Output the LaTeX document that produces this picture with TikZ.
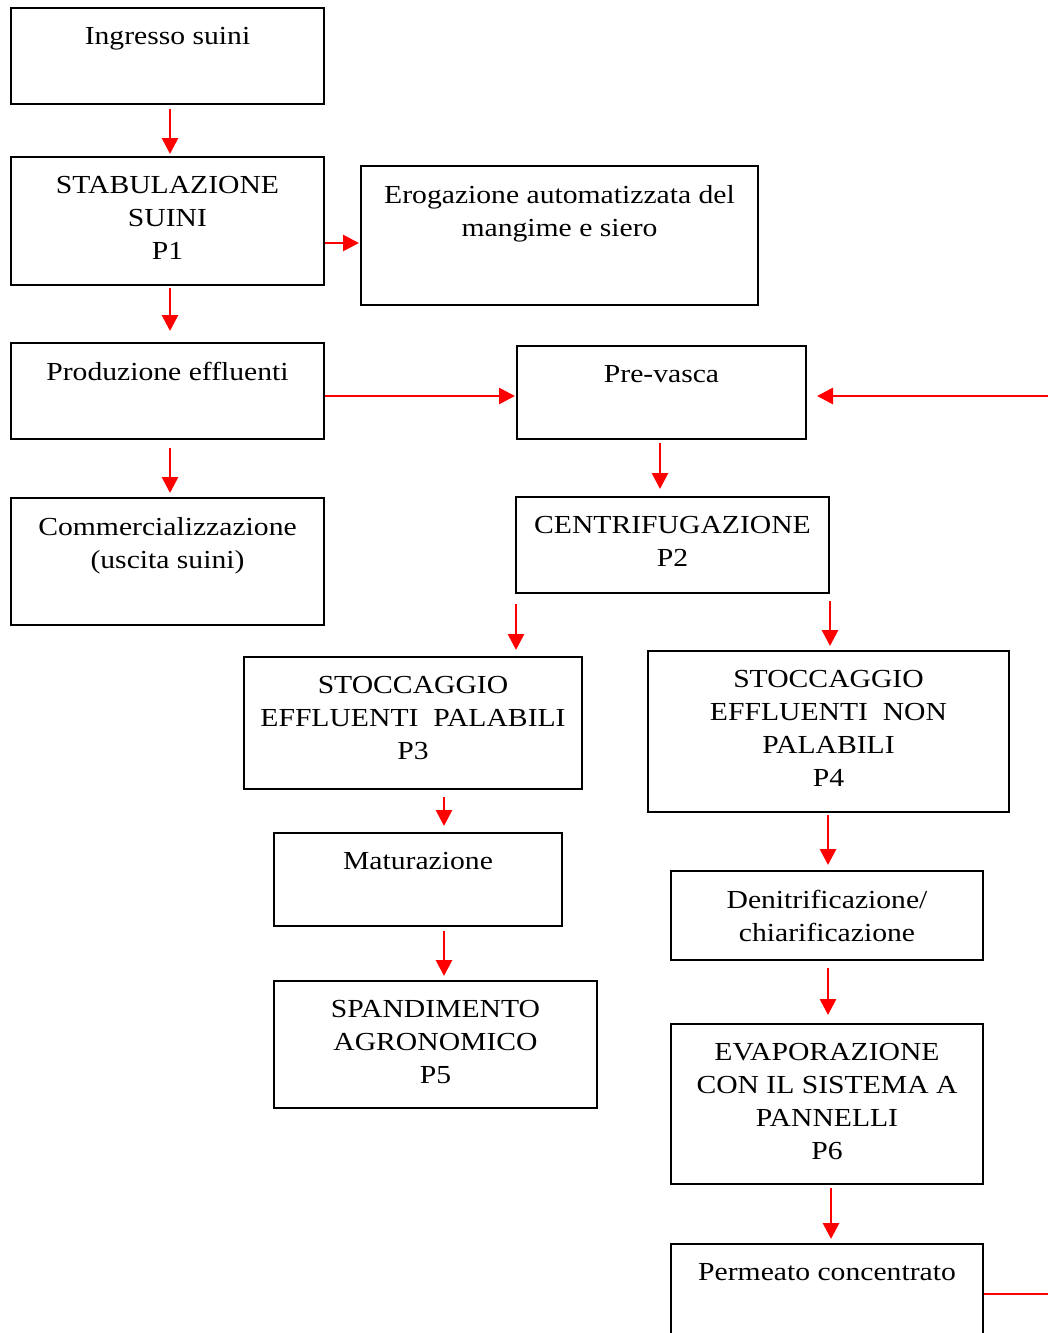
\documentclass[tikz,border=0pt]{standalone}
\usepackage{fontspec}
\setmainfont[FakeStretch=1.14]{Liberation Serif}
\usetikzlibrary{arrows.meta}
\tikzset{
  box/.style={draw=black, line width=2pt, rectangle, inner sep=0pt, fill=none},
  txt/.style={font=\fontsize{26}{33}\selectfont, align=center, inner sep=0pt, anchor=north},
  arr/.style={draw=red, line width=2.8pt, -{Triangle[length=16pt,width=16pt]}},
  thin/.style={draw=red, line width=1.2pt}
}
\begin{document}
\begin{tikzpicture}[x=1pt,y=-1pt]
\useasboundingbox (0,0) rectangle (1048,1333);
% boxes
\node[box, minimum width=313pt, minimum height=96pt]  (ing)   at (167.5,56) {};
\node[box, minimum width=313pt, minimum height=128pt] (stab)  at (167.5,221) {};
\node[box, minimum width=397pt, minimum height=139pt] (erog)  at (559.5,235.5) {};
\node[box, minimum width=313pt, minimum height=96pt]  (prod)  at (167.5,391) {};
\node[box, minimum width=289pt, minimum height=93pt]  (prev)  at (661.5,392.5) {};
\node[box, minimum width=313pt, minimum height=127pt] (comm)  at (167.5,561.5) {};
\node[box, minimum width=313pt, minimum height=96pt]  (cent)  at (672.5,545) {};
\node[box, minimum width=338pt, minimum height=132pt] (p3)    at (413,723) {};
\node[box, minimum width=361pt, minimum height=161pt] (p4)    at (828.5,731.5) {};
\node[box, minimum width=288pt, minimum height=93pt]  (mat)   at (418,879.5) {};
\node[box, minimum width=312pt, minimum height=89pt]  (den)   at (827,915.5) {};
\node[box, minimum width=323pt, minimum height=127pt] (spand) at (435.5,1044.5) {};
\node[box, minimum width=312pt, minimum height=160pt] (evap)  at (827,1104) {};
\node[box, minimum width=312pt, minimum height=116pt] (perm)  at (827,1302) {};
% texts
\node[txt] (ingt)   at ([yshift=-20.5pt]ing.north)   {Ingresso suini};
\node[txt] (stabt)  at ([yshift=-20pt]stab.north)  {STABULAZIONE\\SUINI\\P1};
\node[txt] (erogt)  at ([yshift=-20pt]erog.north)  {Erogazione automatizzata del\\mangime e siero};
\node[txt] (prodt)  at ([yshift=-20pt]prod.north)  {Produzione effluenti};
\node[txt] (prevt)  at ([yshift=-20pt]prev.north)  {Pre-vasca};
\node[txt] (commt)  at ([yshift=-20pt]comm.north)  {Commercializzazione\\(uscita suini)};
\node[txt] (centt)  at ([yshift=-20pt]cent.north)  {CENTRIFUGAZIONE\\P2};
\node[txt] (p3t)    at ([yshift=-20pt]p3.north)    {STOCCAGGIO\\EFFLUENTI\ \ PALABILI\\P3};
\node[txt] (p4t)    at ([yshift=-20pt]p4.north)    {STOCCAGGIO\\EFFLUENTI\ \ NON\\PALABILI\\P4};
\node[txt] (matt)   at ([yshift=-20pt]mat.north)   {Maturazione};
\node[txt] (dent)   at ([yshift=-20pt]den.north)   {Denitrificazione/\\chiarificazione};
\node[txt] (spandt) at ([yshift=-20pt]spand.north) {SPANDIMENTO\\AGRONOMICO\\P5};
\node[txt] (evapt)  at ([yshift=-20pt]evap.north)  {EVAPORAZIONE\\CON IL SISTEMA A\\PANNELLI\\P6};
\node[txt] (permt)  at ([yshift=-20pt]perm.north)  {Permeato concentrato};
% helper coordinates
\coordinate (a1) at ([xshift=2.5pt]ing.south);
\coordinate (a2) at ([yshift=-22pt]stab.east);
\coordinate (a3) at ([xshift=2.5pt]stab.south);
\coordinate (a4) at ([xshift=2.5pt]prod.south);
\coordinate (a5) at ([yshift=-5pt]prod.east);
\coordinate (rin) at (1048,396);
\coordinate (a6) at ([xshift=-1.5pt]prev.south);
\coordinate (a7) at ([xshift=1pt]cent.south west);
\coordinate (a8) at (cent.south east);
\coordinate (a9) at ([xshift=31pt]p3.south);
\coordinate (a10) at ([xshift=26pt]mat.south);
\coordinate (a11) at ([xshift=-0.5pt]p4.south);
\coordinate (a12) at ([xshift=1pt]den.south);
\coordinate (a13) at ([xshift=4pt]evap.south);
\coordinate (a14) at ([yshift=8pt]perm.east);
\coordinate (rout) at (1048,1294);
% connectors
\draw[arr, shorten <=4pt, shorten >=2pt] (a1) -- (a1 |- stab.north);
\draw[arr, shorten >=1pt] (a2) -- (a2 -| erog.west);
\draw[arr, shorten <=2pt, shorten >=11pt] (a3) -- (a3 |- prod.north);
\draw[arr, shorten <=8pt, shorten >=4pt] (a4) -- (a4 |- comm.north);
\draw[arr, shorten >=1pt] (a5) -- (a5 -| prev.west);
\draw[arr, shorten >=10pt] (rin) -- (rin -| prev.east);
\draw[arr, shorten <=3pt, shorten >=7pt] (a6) -- (a6 |- cent.north);
\draw[arr, shorten <=10pt, shorten >=6pt] (a7) -- (a7 |- p3.north);
\draw[arr, shorten <=7pt, shorten >=4pt] (a8) -- (a8 |- p4.north);
\draw[arr, shorten <=7pt, shorten >=6pt] (a9) -- (a9 |- mat.north);
\draw[arr, shorten <=4pt, shorten >=4pt] (a10) -- (a10 |- spand.north);
\draw[arr, shorten <=2pt, shorten >=5pt] (a11) -- (a11 |- den.north);
\draw[arr, shorten <=7pt, shorten >=8pt] (a12) -- (a12 |- evap.north);
\draw[arr, shorten <=3pt, shorten >=4pt] (a13) -- (a13 |- perm.north);
\draw[thin] (a14) -- (rout);
\end{tikzpicture}
\end{document}
